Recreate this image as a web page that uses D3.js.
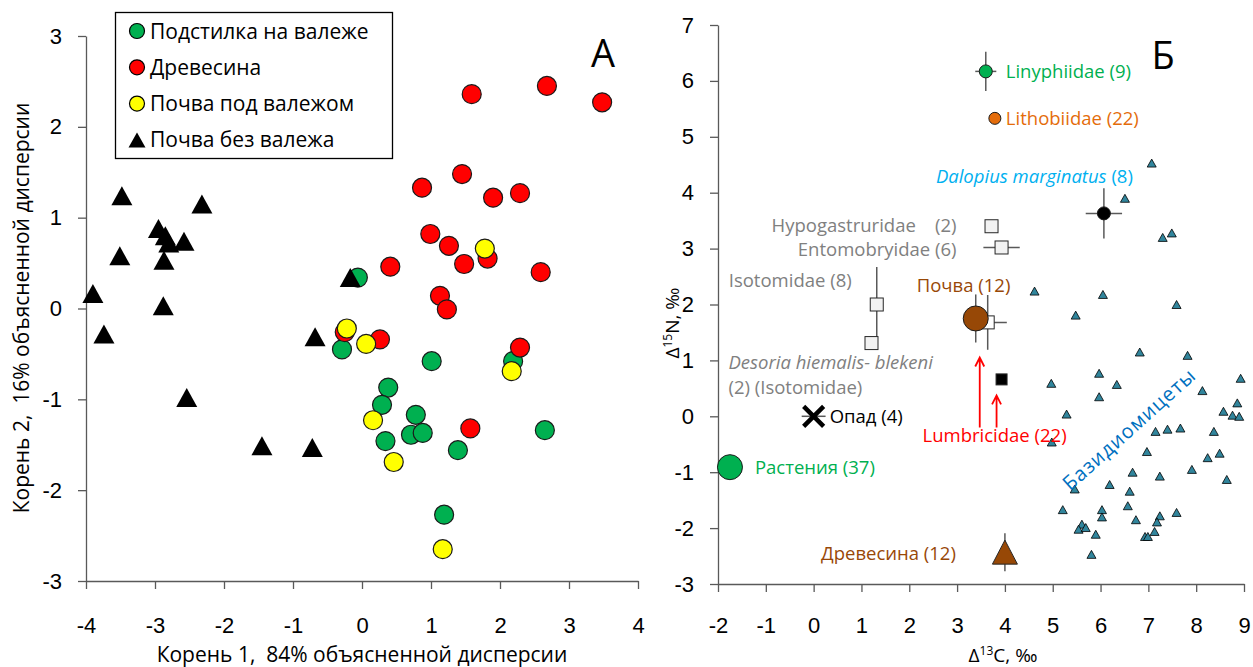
<!DOCTYPE html>
<html>
<head>
<meta charset="utf-8">
<script src="https://cdn.jsdelivr.net/npm/d3@7"></script>
<style>
  body { margin: 0; background: #fff; }
  svg { font-family: "Open Sans", "Noto Sans", sans-serif; }
  text { white-space: pre; }
</style>
</head>
<body>
<svg id="chart" width="1253" height="667"></svg>
<script>
// ---- panel A: discriminant scores ----
const litterOnLog = [[-0.06,0.34],[-0.29,-0.45],[2.19,-0.58],[1.01,-0.58],[0.38,-0.87],[0.29,-1.06],
  [0.78,-1.17],[0.71,-1.39],[0.88,-1.37],[0.34,-1.46],[1.39,-1.56],[2.65,-1.34],[1.19,-2.27]];
const wood = [[1.59,2.36],[2.68,2.45],[3.48,2.27],[1.45,1.48],[0.87,1.33],[1.90,1.22],[2.29,1.27],
  [0.99,0.82],[1.26,0.69],[1.48,0.49],[1.82,0.55],[2.59,0.40],[0.41,0.46],[1.13,0.14],[1.23,-0.01],
  [-0.25,-0.26],[0.26,-0.34],[2.29,-0.43],[1.57,-1.32]];
const soilUnderLog = [[1.78,0.66],[-0.22,-0.22],[0.06,-0.39],[2.17,-0.69],[0.16,-1.23],[0.46,-1.69],[1.17,-2.65]];
const soilNoLog = [[-3.48,1.24],[-2.32,1.15],[-2.95,0.88],[-2.85,0.80],[-2.80,0.72],[-2.58,0.74],
  [-3.51,0.58],[-2.87,0.53],[-3.90,0.165],[-2.88,0.03],[-3.74,-0.28],[-2.54,-0.98],[-1.45,-1.51],
  [-0.72,-1.53],[-0.68,-0.31],[-0.17,0.34]];
const legendLabels = ["Подстилка на валеже", "Древесина", "Почва под валежом", "Почва без валежа"];
const ticksA_x = [-4, -3, -2, -1, 0, 1, 2, 3, 4];
const ticksA_y = [-3, -2, -1, 0, 1, 2, 3];

// ---- panel Б: isotope shifts ----
const taxa = ["Linyphiidae (9)", "Lithobiidae (22)", "Dalopius marginatus", "Hypogastruridae    (2)",
  "Entomobryidae (6)", "Isotomidae (8)", "Desoria hiemalis- blekeni", "Почва (12)",
  "Lumbricidae big", "Lumbricidae small", "Опад (4)", "Растения (37)", "Древесина (12)"];
const d13C = [3.60, 3.79, 6.07, 3.72, 3.93, 1.32, 1.21, 3.39, 3.64, 3.93, 0, -1.75, 4.0];
const d15N = [6.17, 5.33, 3.63, 3.40, 3.02, 2.0, 1.31, 1.75, 1.68, 0.66, 0, -0.91, -2.43];
const errC = [0.22, 0, 0.38, 0, 0.38, 0.05, 0, 0, 0.4, 0, 0.25, 0, 0.1];
const errN = [0.35, 0, 0.45, 0, 0, 0.67, 0, 0.43, 0.49, 0, 0, 0, 0.34];
const fungiC = [7.07,6.51,7.30,7.49,4.62,6.05,7.59,5.48,6.82,7.82,5.97,4.97,6.34,8.93,8.13,5.97,8.86,
  5.29,8.57,8.76,8.90,7.15,7.40,7.67,8.37,4.98,6.97,8.24,8.49,6.67,7.24,7.91,8.64,5.46,6.19,6.61,
  5.21,6.03,6.03,6.57,6.74,7.24,7.18,7.59,5.61,5.54,5.69,5.90,7.13,6.93,6.99,5.81];
const fungiN = [4.53,3.90,3.20,3.28,2.24,2.18,2.00,1.81,1.15,1.09,0.77,0.59,0.57,0.68,0.46,0.35,0.24,
  0.04,0.09,0.02,0.0,-0.27,-0.23,-0.21,-0.27,-0.46,-0.63,-0.74,-0.66,-1.0,-1.07,-0.95,-1.13,-1.30,-1.22,-1.34,
  -1.67,-1.67,-1.80,-1.60,-1.85,-1.78,-1.89,-1.72,-1.93,-2.02,-1.99,-2.11,-2.06,-2.15,-2.15,-2.47];
const ticksB_x = [-2, -1, 0, 1, 2, 3, 4, 5, 6, 7, 8, 9];
const ticksB_y = [-3, -2, -1, 0, 1, 2, 3, 4, 5, 6, 7];

const svg = d3.select('#chart');
const axisColor = '#595959';
const tickFmt = d => String(d); // plain hyphen minus, no decimals

function triPath(w, h) {
  return `M0,${-h / 2}L${w / 2},${h / 2}L${-w / 2},${h / 2}Z`;
}

function styleAxis(g) {
  g.select('.domain').attr('stroke', axisColor).attr('stroke-width', 1.3);
  g.selectAll('.tick line').attr('stroke', axisColor).attr('stroke-width', 1.3);
  g.selectAll('.tick text').attr('fill', '#000').style('font-size', '22px');
}

// ================= Panel A =================
const xA = d3.scaleLinear().domain([-4, 4]).range([86, 638]);
const yA = d3.scaleLinear().domain([-3, 3]).range([581, 36]);

svg.append('g')
  .attr('transform', `translate(0,${yA(-3)})`)
  .call(d3.axisBottom(xA).tickValues(ticksA_x).tickFormat(tickFmt).tickSize(8).tickSizeOuter(0).tickPadding(28))
  .call(styleAxis);
svg.append('g')
  .attr('transform', `translate(${xA(-4)},0)`)
  .call(d3.axisLeft(yA).tickValues(ticksA_y).tickFormat(tickFmt).tickSize(8).tickSizeOuter(0).tickPadding(16))
  .call(styleAxis);

svg.append('text')
  .attr('x', 362).attr('y', 662)
  .attr('text-anchor', 'middle')
  .style('font-size', '21px')
  .text('Корень 1,  84% объясненной дисперсии');
svg.append('text')
  .attr('transform', 'translate(29,308) rotate(-90)')
  .attr('text-anchor', 'middle')
  .style('font-size', '21px')
  .text('Корень 2,  16% объясненной дисперсии');

const groupsA = [
  { pts: litterOnLog, fill: '#00B050' },
  { pts: wood, fill: '#FF0000' },
  { pts: soilUnderLog, fill: '#FFFF00' }
];
groupsA.forEach(gr => {
  svg.append('g').selectAll('circle')
    .data(gr.pts)
    .enter().append('circle')
    .attr('cx', d => xA(d[0]))
    .attr('cy', d => yA(d[1]))
    .attr('r', 9.5)
    .attr('fill', gr.fill)
    .attr('stroke', '#1a1a1a')
    .attr('stroke-width', 1.2);
});
svg.append('g').selectAll('path')
  .data(soilNoLog)
  .enter().append('path')
  .attr('d', triPath(21, 19))
  .attr('transform', d => `translate(${xA(d[0])},${yA(d[1])})`)
  .attr('fill', '#000');

// legend
svg.append('rect')
  .attr('x', 115.5).attr('y', 12.5).attr('width', 277).attr('height', 146)
  .attr('fill', '#fff').attr('stroke', '#000').attr('stroke-width', 1.3);
const legendFills = ['#00B050', '#FF0000', '#FFFF00'];
legendLabels.forEach((lab, i) => {
  const cy = 31 + i * 36.3;
  if (i < 3) {
    svg.append('circle').attr('cx', 137).attr('cy', cy).attr('r', 7.5)
      .attr('fill', legendFills[i]).attr('stroke', '#000').attr('stroke-width', 1.2);
  } else {
    svg.append('path').attr('d', triPath(17, 15))
      .attr('transform', `translate(137,${cy})`).attr('fill', '#000');
  }
  svg.append('text')
    .attr('x', 150).attr('y', cy)
    .attr('dy', '0.36em')
    .style('font-size', '21px')
    .text(lab);
});

svg.append('text')
  .attr('x', 603).attr('y', 53).attr('dy', '0.36em')
  .attr('text-anchor', 'middle')
  .style('font-size', '38px')
  .text('А');

// ================= Panel Б =================
const xB = d3.scaleLinear().domain([-2, 9]).range([718, 1244]);
const yB = d3.scaleLinear().domain([-3, 7]).range([584, 25]);

svg.append('g')
  .attr('transform', `translate(0,${yB(-3)})`)
  .call(d3.axisBottom(xB).tickValues(ticksB_x).tickFormat(tickFmt).tickSize(8).tickSizeOuter(0).tickPadding(25))
  .call(styleAxis);
svg.append('g')
  .attr('transform', `translate(${xB(-2)},0)`)
  .call(d3.axisLeft(yB).tickValues(ticksB_y).tickFormat(tickFmt).tickSize(8).tickSizeOuter(0).tickPadding(16))
  .call(styleAxis);

const xt = svg.append('text')
  .attr('x', 1003).attr('y', 662)
  .attr('text-anchor', 'middle')
  .style('font-size', '19px');
xt.append('tspan').text('Δ');
xt.append('tspan').attr('dy', -7).style('font-size', '12px').text('13');
xt.append('tspan').attr('dy', 7).text('C, ‰');

const yt = svg.append('text')
  .attr('transform', 'translate(679,323) rotate(-90)')
  .attr('text-anchor', 'middle')
  .style('font-size', '19px');
yt.append('tspan').text('Δ');
yt.append('tspan').attr('dy', -7).style('font-size', '12px').text('15');
yt.append('tspan').attr('dy', 7).text('N, ‰');

// fungi (basidiomycetes)
svg.append('g').selectAll('path')
  .data(d3.zip(fungiC, fungiN))
  .enter().append('path')
  .attr('d', triPath(9, 8))
  .attr('transform', d => `translate(${xB(d[0])},${yB(d[1])})`)
  .attr('fill', '#31859C')
  .attr('stroke', '#000')
  .attr('stroke-width', 0.8);

svg.append('text')
  .attr('transform', 'translate(1129,429) rotate(-42)')
  .attr('text-anchor', 'middle')
  .attr('dy', '0.36em')
  .attr('fill', '#0070C0')
  .style('font-size', '20px')
  .style('letter-spacing', '1px')
  .text('Базидиомицеты');

// error bars
const errG = svg.append('g');
taxa.forEach((t, i) => {
  const cx = xB(d13C[i]), cy = yB(d15N[i]);
  if (errN[i] > 0) {
    errG.append('line')
      .attr('x1', cx).attr('x2', cx)
      .attr('y1', yB(d15N[i] + errN[i])).attr('y2', yB(d15N[i] - errN[i]))
      .attr('stroke', '#595959').attr('stroke-width', 1.5);
  }
  if (errC[i] > 0) {
    errG.append('line')
      .attr('y1', cy).attr('y2', cy)
      .attr('x1', xB(d13C[i] - errC[i])).attr('x2', xB(d13C[i] + errC[i]))
      .attr('stroke', '#595959').attr('stroke-width', 1.5);
  }
});

const markG = svg.append('g');
function px(i) { return [xB(d13C[i]), yB(d15N[i])]; }

function square(i, s, fill) {
  const [cx, cy] = px(i);
  markG.append('rect')
    .attr('x', cx - s / 2).attr('y', cy - s / 2)
    .attr('width', s).attr('height', s)
    .attr('fill', fill).attr('stroke', '#262626').attr('stroke-width', 1);
}
function circle(i, r, fill) {
  const [cx, cy] = px(i);
  markG.append('circle').attr('cx', cx).attr('cy', cy).attr('r', r)
    .attr('fill', fill).attr('stroke', '#1a1a1a').attr('stroke-width', 1);
}

square(3, 13, '#F2F2F2');
square(4, 13, '#F2F2F2');
square(5, 13, '#F2F2F2');
square(6, 13, '#F2F2F2');
square(8, 13, '#FFFFFF');   // Lumbricidae square, behind the soil circle
circle(7, 12.5, '#974806');
square(9, 11, '#000');
circle(0, 6.5, '#00B050');
circle(1, 6, '#E46C0A');
circle(2, 6.5, '#000');
circle(11, 12.5, '#00B050');
{
  const [cx, cy] = px(12);
  markG.append('path').attr('d', triPath(25, 24))
    .attr('transform', `translate(${cx},${cy})`)
    .attr('fill', '#974806').attr('stroke', '#262626').attr('stroke-width', 1);
}
{
  const [cx, cy] = px(10);
  markG.append('path')
    .attr('d', 'M-10,-10L10,10M-10,10L10,-10')
    .attr('transform', `translate(${cx},${cy})`)
    .attr('stroke', '#000').attr('stroke-width', 4.5);
}

// labels
function label(i, dx, dy, txt, color, anchor, italic) {
  const [cx, cy] = px(i);
  return svg.append('text')
    .attr('x', cx + dx).attr('y', cy + dy)
    .attr('dy', '0.36em')
    .attr('text-anchor', anchor || 'start')
    .attr('fill', color)
    .style('font-size', '18.5px')
    .style('font-style', italic ? 'italic' : 'normal')
    .text(txt);
}
label(0, 20, 0, taxa[0], '#00B050');
label(1, 11, 0, taxa[1], '#E46C0A');
{
  const t = label(2, 29, -37, '', '#00B0F0', 'end');
  t.append('tspan').style('font-style', 'italic').text(taxa[2]);
  t.append('tspan').text(' (8)');
}
label(3, -35, -1, taxa[3], '#808080', 'end');
label(4, -45, 2, taxa[4], '#808080', 'end');
label(5, -148, -24, taxa[5], '#808080');
label(6, -143, 19, taxa[6], '#808080', 'start', true);
label(6, -143, 44, '(2) (Isotomidae)', '#808080');
label(7, -59, -33, taxa[7], '#984807');
label(9, -79, 56, 'Lumbricidae (22)', '#FF0000');
label(10, 16, 0, taxa[10], '#000');
label(11, 25, 0, taxa[11], '#00B050');
label(12, -49, 1, taxa[12], '#984807', 'end');

// red arrows pointing to Lumbricidae
function arrow(x, yTop, yBot) {
  svg.append('path')
    .attr('d', `M${x},${yBot}L${x},${yTop}M${x - 4.5},${yTop + 9}L${x},${yTop}L${x + 4.5},${yTop + 9}`)
    .attr('fill', 'none').attr('stroke', '#FF0000').attr('stroke-width', 1.8);
}
{
  const [sx, sy] = px(7);
  const [lx, ly] = px(9);
  arrow(sx + 4, sy + 39, ly + 48);
  arrow(lx - 5, ly + 16, ly + 48);
}

svg.append('text')
  .attr('x', 1163).attr('y', 55).attr('dy', '0.36em')
  .attr('text-anchor', 'middle')
  .style('font-size', '38px')
  .text('Б');
</script>
</body>
</html>
